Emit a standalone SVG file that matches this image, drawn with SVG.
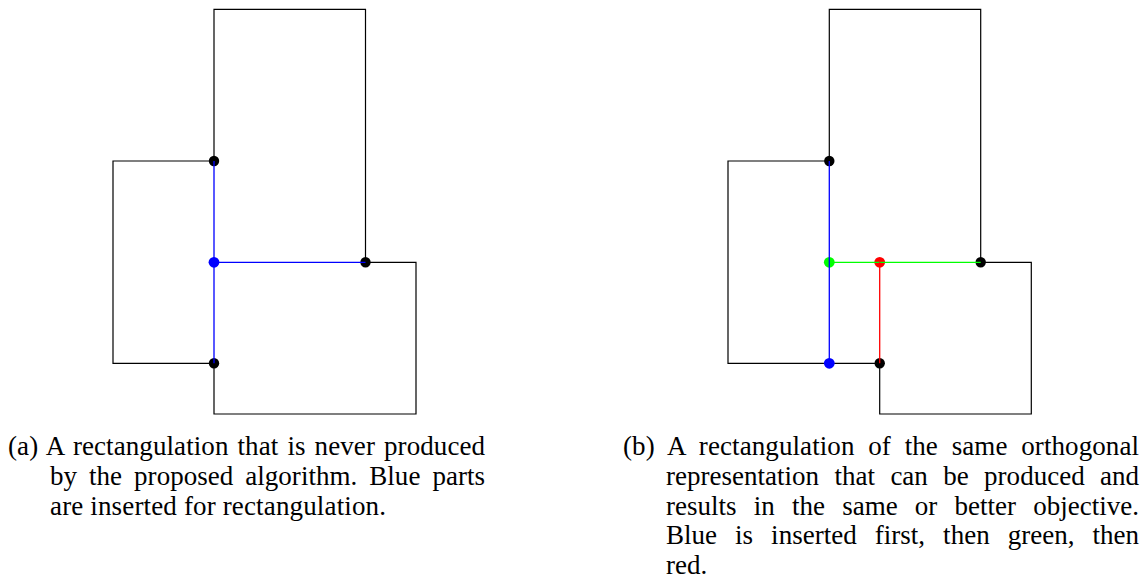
<svg xmlns="http://www.w3.org/2000/svg" width="1145" height="588" viewBox="0 0 1145 588">
<style>
.edge{fill:none;stroke:#000;stroke-width:1.2;stroke-linejoin:miter;stroke-linecap:butt}
.blue{fill:none;stroke:#0000ff;stroke-width:1.3}
.green{fill:none;stroke:#00ff00;stroke-width:1.3}
.red{fill:none;stroke:#ff0000;stroke-width:1.3}
.dk{fill:#000}
.db{fill:#0000ff}
.dg{fill:#00ff00}
.dr{fill:#ff0000}
</style>
<rect width="1145" height="588" fill="#fff"/>
<g id="connectors">
  <g id="outline-a">
    <path class="edge" d="M214,161 V9.3 H365.5 V262.3 H416 V414 H214 V363.3"/>
    <path class="edge" d="M214,161 H113 V363.3 H214"/>
  </g>
  <g id="outline-b">
    <path class="edge" d="M829.3,161 V9.3 H980.7 V262.3 H1031.3 V414 H879.7 V363.3"/>
    <path class="edge" d="M829.3,161 H728 V363.3 H879.7"/>
  </g>
</g>
<g id="node-a1"><circle class="dk" cx="214" cy="161" r="5.2"/></g>
<g id="node-a2"><circle class="dk" cx="365.5" cy="262.3" r="5.2"/></g>
<g id="node-a3"><circle class="dk" cx="214" cy="363.3" r="5.2"/></g>
<g id="node-a4"><circle class="db" cx="214" cy="262.3" r="5.4"/></g>
<g id="node-b1"><circle class="dk" cx="829.3" cy="161" r="5.2"/></g>
<g id="node-b2"><circle class="dk" cx="980.7" cy="262.3" r="5.2"/></g>
<g id="node-b3"><circle class="dk" cx="879.7" cy="363.3" r="5.2"/></g>
<g id="node-b4"><circle class="db" cx="829.3" cy="363.3" r="5.4"/></g>
<g id="node-b5"><circle class="dg" cx="829.3" cy="262.3" r="5.4"/></g>
<g id="node-b6"><circle class="dr" cx="879.7" cy="262.3" r="5.4"/></g>
<g id="inserted-connectors">
  <path class="blue" d="M214,161 V363.3 M214,262.3 H365.5"/>
  <path class="green" d="M829.3,262.3 H980.7"/>
  <path class="red" d="M879.7,262.3 V363.3"/>
  <path class="blue" d="M829.3,161 V363.3"/>
</g>
<g id="caption-a" font-family="Liberation Serif, DejaVu Serif, serif" font-size="27" fill="#000">
  <text x="8" y="455" word-spacing="2.2" textLength="477" lengthAdjust="spacing">(a) A rectangulation that is never produced</text>
  <text x="50" y="484.8" word-spacing="5.2" textLength="435" lengthAdjust="spacing">by the proposed algorithm. Blue parts</text>
  <text x="50" y="514.6" textLength="336" lengthAdjust="spacing">are inserted for rectangulation.</text>
</g>
<g id="caption-b" font-family="Liberation Serif, DejaVu Serif, serif" font-size="27" fill="#000">
  <text x="623" y="455" word-spacing="6.9" textLength="516" lengthAdjust="spacing">(b) A rectangulation of the same orthogonal</text>
  <text x="666" y="484.8" word-spacing="8.6" textLength="473" lengthAdjust="spacing">representation that can be produced and</text>
  <text x="666" y="514.6" word-spacing="10.4" textLength="473" lengthAdjust="spacing">results in the same or better objective.</text>
  <text x="666" y="544.4" word-spacing="11.2" textLength="473" lengthAdjust="spacing">Blue is inserted first, then green, then</text>
  <text x="666" y="574.2">red.</text>
</g>
</svg>
